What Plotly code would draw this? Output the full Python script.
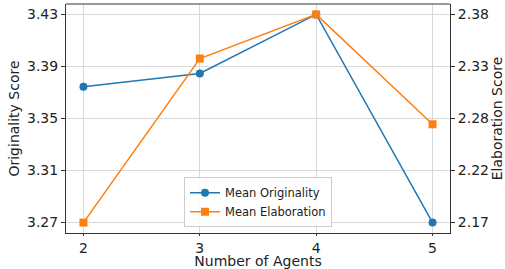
import numpy as np
import plotly.graph_objects as go

agents = [2, 3, 4, 5]
mean_originality = [3.3743, 3.3845, 3.4298, 3.2703]
mean_elaboration = [2.1705, 2.3364, 2.3810, 2.2699]

BLUE = "#1f77b4"
ORANGE = "#ff7f0e"
FONT = "DejaVu Sans"


def padded(vals, frac=0.05):
    lo, hi = min(vals), max(vals)
    d = (hi - lo) * frac
    return [lo - d, hi + d]


def ticks(vals):
    t = np.linspace(min(vals), max(vals), 5)
    return list(t), [f"{v:.2f}" for v in t]


o_tv, o_tt = ticks(mean_originality)
e_tv, e_tt = ticks(mean_elaboration)

fig = go.Figure()
fig.add_trace(go.Scatter(
    x=agents, y=mean_originality, name="Mean Originality",
    mode="lines+markers", line=dict(color=BLUE, width=1.5),
    marker=dict(symbol="circle", size=8, color=BLUE), yaxis="y"))
fig.add_trace(go.Scatter(
    x=agents, y=mean_elaboration, name="Mean Elaboration",
    mode="lines+markers", line=dict(color=ORANGE, width=1.5),
    marker=dict(symbol="square", size=8, color=ORANGE), yaxis="y2"))

axis_common = dict(
    showline=True, linecolor="#333333", linewidth=1, mirror=False,
    ticks="outside", tickcolor="#333333",
    tickfont=dict(family=FONT, size=14, color="#222222"),
    zeroline=False, automargin=False,
)

fig.update_layout(
    width=505, height=269,
    margin=dict(l=66, r=55, t=4, b=36),
    paper_bgcolor="white", plot_bgcolor="white",
    font=dict(family=FONT, size=14, color="#222222"),
    xaxis=dict(
        range=padded(agents), tickvals=agents, ticktext=[str(a) for a in agents],
        showgrid=True, gridcolor="#d9d9d9", gridwidth=1, ticklen=2,
        title=dict(text="Number of Agents", font=dict(family=FONT, size=14), standoff=3),
        **axis_common),
    yaxis=dict(
        range=padded(mean_originality), tickvals=o_tv, ticktext=o_tt,
        showgrid=True, gridcolor="#d9d9d9", gridwidth=1, ticklen=4,
        title=dict(text="Originality Score", font=dict(family=FONT, size=14), standoff=4),
        **axis_common),
    yaxis2=dict(
        range=padded(mean_elaboration), tickvals=e_tv, ticktext=e_tt,
        overlaying="y", side="right", showgrid=False, ticklen=4,
        title=dict(text="Elaboration Score", font=dict(family=FONT, size=14), standoff=4),
        **axis_common),
    legend=dict(
        x=0.5, xanchor="center", y=0.025, yanchor="bottom",
        bgcolor="rgba(255,255,255,0.85)", bordercolor="#cccccc", borderwidth=1,
        font=dict(family=FONT, size=11.5, color="#222222"),
        tracegroupgap=0, itemwidth=30,
    ),
    showlegend=True,
)

# top frame line
fig.add_shape(type="line", xref="paper", yref="paper", x0=0, x1=1, y0=1, y1=1,
              line=dict(color="#333333", width=1))

fig.write_html("out.html", config={"displayModeBar": False},
               post_script="document.body.style.margin='0';")
